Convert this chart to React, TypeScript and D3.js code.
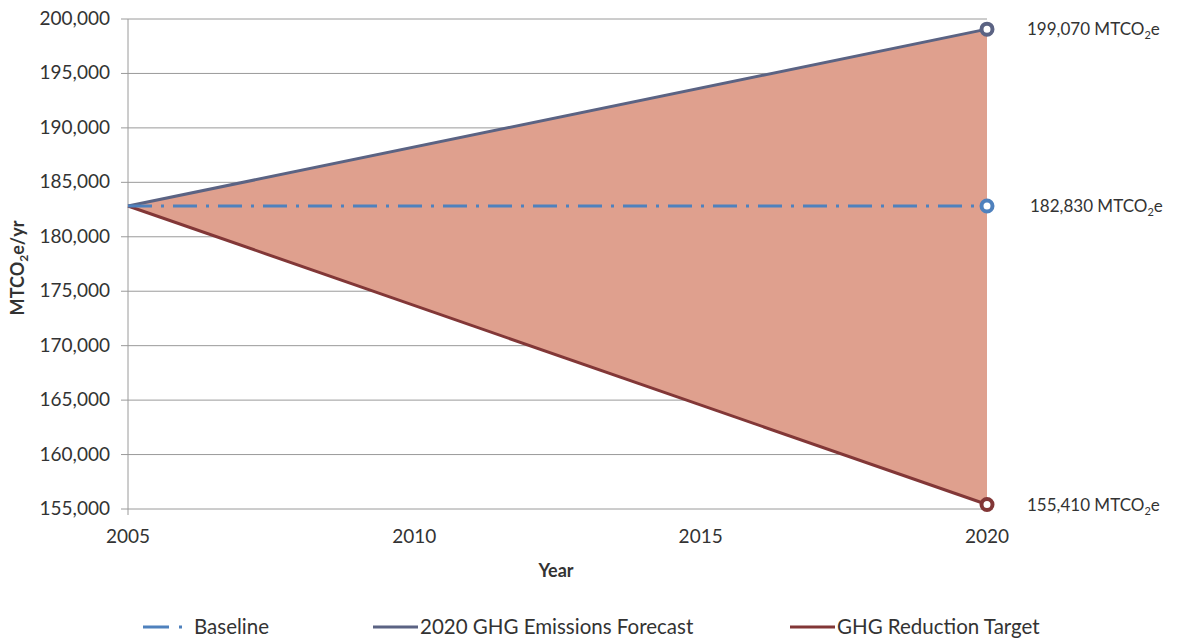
import { useEffect, useRef } from 'react';
import * as d3 from 'd3';

const years = [2005, 2020];
const baseline = [182830, 182830];
const forecast = [182830, 199070];
const target = [182830, 155410];
const yTicks = [155000, 160000, 165000, 170000, 175000, 180000, 185000, 190000, 195000, 200000];
const xTicks = [2005, 2010, 2015, 2020];
const endLabels = ['199,070', '182,830', '155,410'];

const FONT = 'Lato, "Open Sans", sans-serif';

export default function App() {
  const svgRef = useRef<SVGSVGElement>(null);

  useEffect(() => {
    if (!svgRef.current) return;
    const svg = d3.select(svgRef.current);
    svg.selectAll('*').remove();

    const x = d3.scaleLinear().domain([2005, 2020]).range([128, 987]);
    const y = d3.scaleLinear().domain([155000, 200000]).range([509, 19]);

    // grid
    svg.append('g')
      .selectAll('line')
      .data(yTicks)
      .enter().append('line')
      .attr('x1', 121)
      .attr('x2', 987)
      .attr('y1', d => y(d))
      .attr('y2', d => y(d))
      .attr('stroke', '#9a9a9a')
      .attr('stroke-width', 1);

    // y axis line
    svg.append('line')
      .attr('x1', 128).attr('x2', 128)
      .attr('y1', y(200000)).attr('y2', y(155000) + 6)
      .attr('stroke', '#9a9a9a');

    // fill between forecast and target
    const area = d3.area<number>()
      .x((d, i) => x(years[i]))
      .y0((d, i) => y(target[i]))
      .y1((d, i) => y(forecast[i]));
    svg.append('path')
      .datum(years)
      .attr('d', area)
      .attr('fill', '#dfa08e');

    const line = (vals: number[]) => d3.line<number>()
      .x((d, i) => x(years[i]))
      .y(d => y(d))(vals);

    svg.append('path')
      .attr('d', line(forecast))
      .attr('fill', 'none')
      .attr('stroke', '#5b6383')
      .attr('stroke-width', 3);
    svg.append('path')
      .attr('d', line(target))
      .attr('fill', 'none')
      .attr('stroke', '#823737')
      .attr('stroke-width', 3);
    svg.append('path')
      .attr('d', line(baseline))
      .attr('fill', 'none')
      .attr('stroke', '#4f81bd')
      .attr('stroke-width', 3)
      .attr('stroke-dasharray', '24,9,3,9');

    // end markers
    const ends = [
      { v: forecast[1], c: '#5b6383' },
      { v: baseline[1], c: '#4f81bd' },
      { v: target[1], c: '#823737' },
    ];
    svg.append('g')
      .selectAll('circle')
      .data(ends)
      .enter().append('circle')
      .attr('cx', x(2020))
      .attr('cy', d => y(d.v))
      .attr('r', 5.5)
      .attr('fill', '#fff')
      .attr('stroke', d => d.c)
      .attr('stroke-width', 4);

    // end labels
    const lbl = svg.append('g')
      .selectAll('text')
      .data(ends)
      .enter().append('text')
      .attr('x', (d, i) => (i === 1 ? 1030 : 1027))
      .attr('y', d => y(d.v) + 6)
      .attr('font-family', FONT)
      .attr('font-size', 17)
      .attr('fill', '#333');
    lbl.append('tspan').text((d, i) => endLabels[i] + ' MTCO');
    lbl.append('tspan').attr('font-size', 11).attr('dy', 4).text('2');
    lbl.append('tspan').attr('dy', -4).text('e');

    // y tick labels
    svg.append('g')
      .selectAll('text')
      .data(yTicks)
      .enter().append('text')
      .attr('x', 110)
      .attr('y', d => y(d) + 6)
      .attr('text-anchor', 'end')
      .attr('font-family', FONT)
      .attr('font-size', 19)
      .attr('fill', '#333')
      .text(d => d3.format(',')(d));

    // x tick labels
    svg.append('g')
      .selectAll('text')
      .data(xTicks)
      .enter().append('text')
      .attr('x', d => x(d))
      .attr('y', 543)
      .attr('text-anchor', 'middle')
      .attr('font-family', FONT)
      .attr('font-size', 19)
      .attr('fill', '#333')
      .text(d => d);

    // axis titles
    svg.append('text')
      .attr('x', 556)
      .attr('y', 577)
      .attr('text-anchor', 'middle')
      .attr('font-family', FONT)
      .attr('font-weight', 'bold')
      .attr('font-size', 18)
      .attr('fill', '#333')
      .text('Year');

    const yt = svg.append('text')
      .attr('transform', 'translate(24,268) rotate(-90)')
      .attr('text-anchor', 'middle')
      .attr('font-family', FONT)
      .attr('font-weight', 'bold')
      .attr('font-size', 18)
      .attr('fill', '#333');
    yt.append('tspan').text('MTCO');
    yt.append('tspan').attr('font-size', 12).attr('dy', 4).text('2');
    yt.append('tspan').attr('dy', -4).text('e/yr');

    // legend
    const legend = [
      { name: 'Baseline', c: '#4f81bd', dash: '26,10,3,20', x1: 143, x2: 186, tx: 194 },
      { name: '2020 GHG Emissions Forecast', c: '#5b6383', dash: null, x1: 373, x2: 418, tx: 420 },
      { name: 'GHG Reduction Target', c: '#823737', dash: null, x1: 790, x2: 835, tx: 837 },
    ];
    const lg = svg.append('g')
      .selectAll('g')
      .data(legend)
      .enter().append('g');
    lg.append('line')
      .attr('x1', d => d.x1)
      .attr('x2', d => d.x2)
      .attr('y1', 627)
      .attr('y2', 627)
      .attr('stroke', d => d.c)
      .attr('stroke-width', 3)
      .attr('stroke-dasharray', d => d.dash);
    lg.append('text')
      .attr('x', d => d.tx)
      .attr('y', 634)
      .attr('font-family', FONT)
      .attr('font-size', 20.5)
      .attr('fill', '#333')
      .text(d => d.name);
  }, []);

  return (
    <svg
      ref={svgRef}
      width={1190}
      height={639}
      style={{ display: 'block', position: 'absolute', left: 0, top: 0, background: '#fff' }}
    />
  );
}
